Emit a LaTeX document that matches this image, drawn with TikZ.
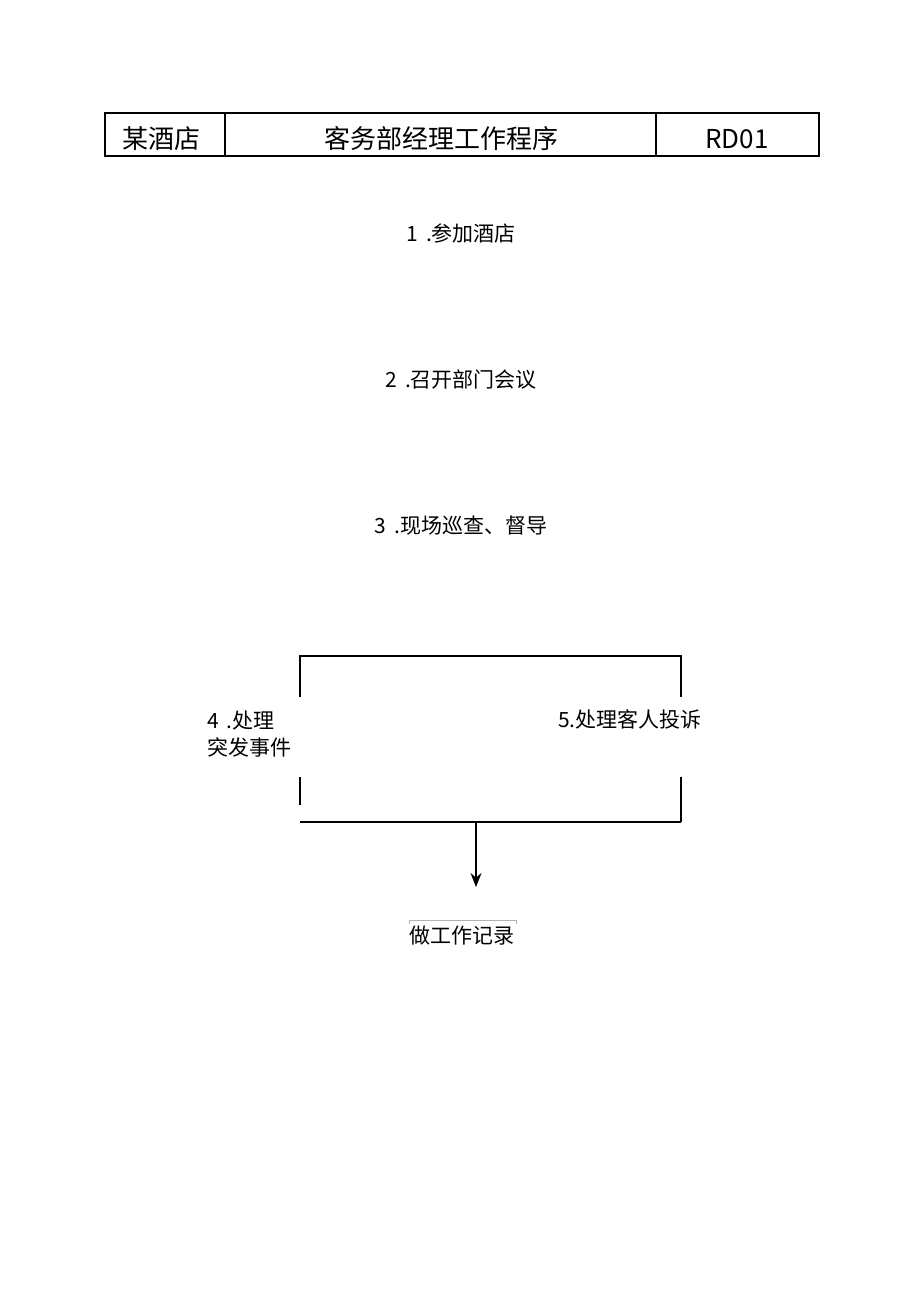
\documentclass[tikz,border=0pt]{standalone}
\usepackage{fontspec}
\setmainfont{Noto Sans CJK SC}
\usetikzlibrary{arrows.meta}
\begin{document}
\begin{tikzpicture}[x=1pt,y=-1pt,line width=1.2pt]
    \useasboundingbox (0,0) rectangle (920,1301);
    \tikzset{head/.style={font=\fontsize{26}{30}\selectfont},
      stepnode/.style={font=\fontsize{21}{27}\selectfont}}

    % header table
    \draw (105,113) rectangle (819,156);
    \draw (225,113) -- (225,156);
    \draw (656,113) -- (656,156);
    \node[head] (hotel) at (161,139) {某酒店};
    \node[head] (title) at (441,139) {客务部经理工作程序};
    \node[head] (code) at (737,139) {RD01};

    \node[stepnode] (meet) at (461,233) {1\,~.参加酒店};
    \node[stepnode] (dept) at (461,380) {2\,~.召开部门会议};
    \node[stepnode] (patrol) at (461,526) {3\,~.现场巡查、督导};

    \node[stepnode, align=left] (emerg) at (249,734) {4\,~.处理\\突发事件};
    \node[stepnode] (complain) at (630,719) {5.处理客人投诉};
    \node[stepnode] (record) at (462,936) {做工作记录};

    \coordinate (lt) at (300,656);
    \coordinate (rt) at (681,656);
    \coordinate (lb) at (300,822);
    \coordinate (rb) at (681,822);
    \coordinate (join) at (476,822);
    \coordinate (tip) at (476,887);

    \draw (300,697) -- (lt) -- (rt) -- (681,697);
    \draw (300,777) -- (300,805);
    \draw (681,777) -- (rb);
    \draw (lb) -- (rb);
    \draw [-{Stealth[length=14pt,width=11pt]}] (join) -- (tip);
    \draw [gray!60, line width=0.6pt] (409,924) -- (409,920) -- (516,920) -- (516,924);
  \end{tikzpicture}
\end{document}
